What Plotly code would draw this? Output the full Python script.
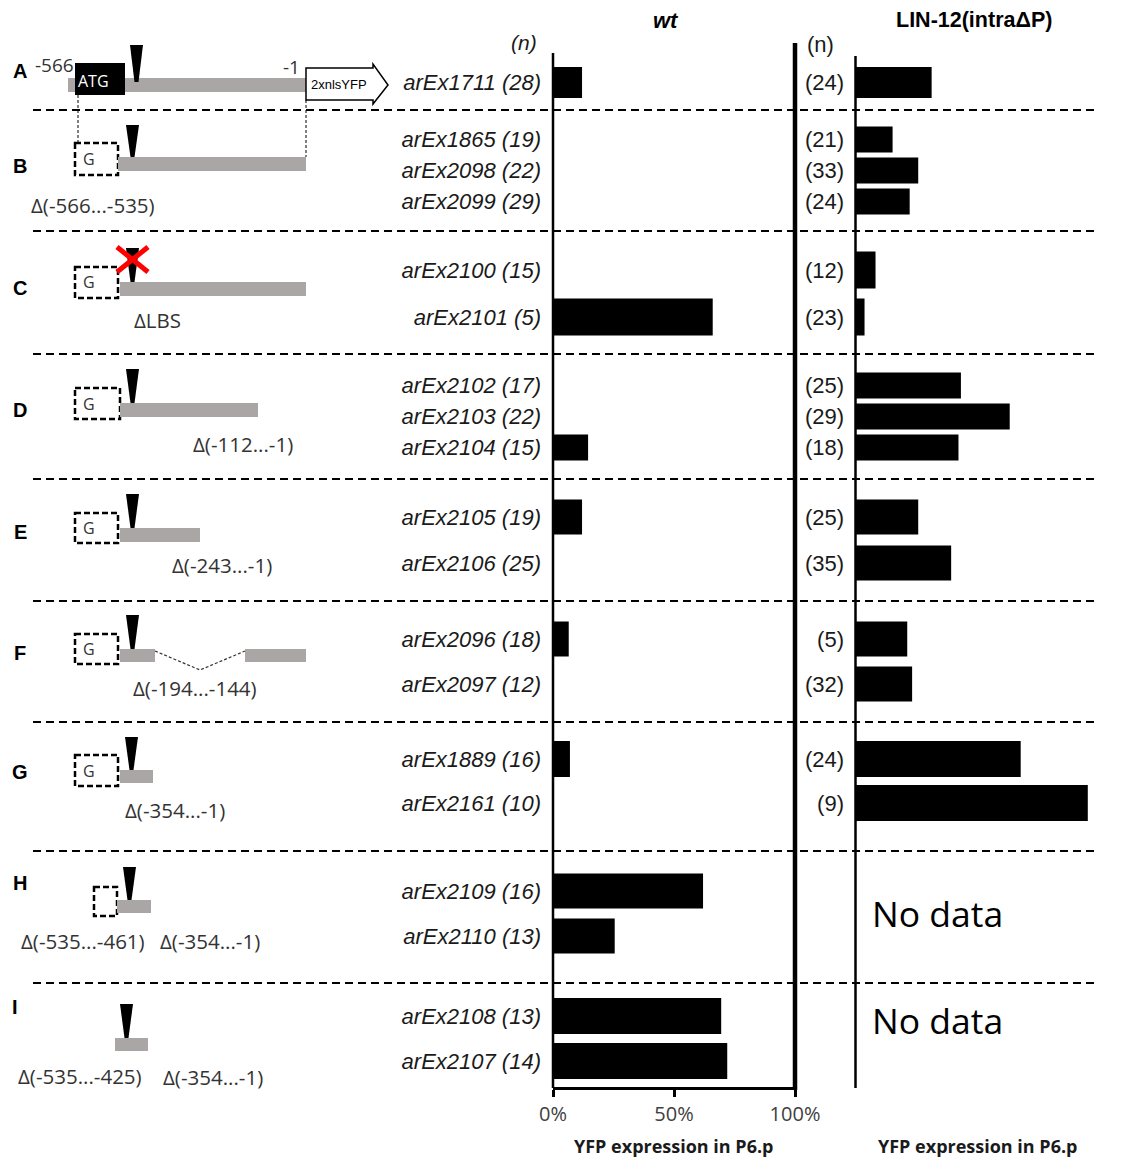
import plotly.graph_objects as go

# ---------------- data ----------------
constructs = ["arEx1711", "arEx1865", "arEx2098", "arEx2099", "arEx2100", "arEx2101",
              "arEx2102", "arEx2103", "arEx2104", "arEx2105", "arEx2106", "arEx2096",
              "arEx2097", "arEx1889", "arEx2161", "arEx2109", "arEx2110", "arEx2108",
              "arEx2107"]
groups = ["A", "B", "B", "B", "C", "C", "D", "D", "D", "E", "E", "F", "F", "G", "G",
          "H", "H", "I", "I"]
n_wt = [28, 19, 22, 29, 15, 5, 17, 22, 15, 19, 25, 18, 12, 16, 10, 16, 13, 13, 14]
n_lin = [24, 21, 33, 24, 12, 23, 25, 29, 18, 25, 35, 5, 32, 24, 9, None, None, None, None]
wt_pct = [12, 0, 0, 0, 0, 66, 0, 0, 14.5, 12, 0, 6.5, 0, 7, 0, 62, 25.5, 69.5, 72]
lin_pct = [31, 15, 25.5, 22, 8, 3.5, 43, 63, 42, 25.5, 39, 21, 23, 67.5, 95,
           None, None, None, None]
x_ticks = [0, 50, 100]
x_ticktext = ["0%", "50%", "100%"]
section_order = ["A", "B", "C", "D", "E", "F", "G", "H", "I"]

# ---------------- layout helpers ----------------
W, H = 1130, 1158
OFF = 8  # page body margin


def X(p):
    return (p - OFF) / W


def Y(p):
    return 1 - (p - OFF) / H


# section: (top px, bottom px, row spacing px, bar height px, centre offset px)
sec_layout = {
    "A": (55, 110, 40, 31, 0),
    "B": (110, 231, 31, 26, 0),
    "C": (231, 354, 47, 37, 1),
    "D": (354, 479, 31, 26, 0),
    "E": (479, 601, 46, 35, 0),
    "F": (601, 722, 45, 35, 0),
    "G": (722, 851, 44, 36, -5.5),
    "H": (851, 983, 45, 35, -3.5),
    "I": (983, 1087, 45, 36, 3.5),
}
col_domains = [[X(553), X(795)], [X(856), X(1100)]]

fig = go.Figure()
lay = {}
k = 0
for s in section_order:
    idx = [i for i, g in enumerate(groups) if g == s]
    top, bot, sp, bar, off = sec_layout[s]
    n = len(idx)
    c = (n - 1) / 2 - off / sp
    h = (bot - top) / 2 / sp
    yr = [c + h, c - h]
    dom = [Y(bot), Y(top)]
    cats = [constructs[i] for i in idx]
    for col in (0, 1):
        k += 1
        xa = "x" if k == 1 else f"x{k}"
        ya = "y" if k == 1 else f"y{k}"
        if col == 0:
            vals = [wt_pct[i] for i in idx]
            text = [f"{constructs[i]} ({n_wt[i]})" for i in idx]
            tfont = dict(family="Liberation Sans", size=22, color="#1a1a1a", style="italic")
        else:
            vals = [lin_pct[i] for i in idx]
            text = [f"({n_lin[i]})" if n_lin[i] is not None else "" for i in idx]
            tfont = dict(family="Liberation Sans", size=22, color="#1a1a1a")
        has = any(v is not None for v in vals)
        if has:
            fig.add_trace(go.Bar(y=cats, x=vals, orientation="h", xaxis=xa, yaxis=ya,
                                 marker=dict(color="black", line=dict(width=0)),
                                 width=bar / sp, showlegend=False, hoverinfo="x+y"))
        lay["yaxis" if k == 1 else f"yaxis{k}"] = dict(
            domain=dom, anchor=xa, type="category", categoryarray=cats,
            range=yr, tickmode="array", tickvals=cats, ticktext=text,
            showticklabels=has, tickfont=tfont, ticks="", ticklabelstandoff=11,
            showline=False, showgrid=False, zeroline=False, automargin=False)
        bottom = (s == section_order[-1])
        lay["xaxis" if k == 1 else f"xaxis{k}"] = dict(
            domain=col_domains[col], anchor=ya, range=[0, 100],
            showgrid=False, zeroline=False, automargin=False,
            showline=bottom, linecolor="black", linewidth=3,
            ticks="outside" if bottom else "", ticklen=7, tickwidth=3, tickcolor="black",
            tickmode="array", tickvals=x_ticks, ticktext=x_ticktext,
            showticklabels=bottom,
            tickfont=dict(family="Open Sans", size=20, color="#404040"))

shapes = []
ann = []


def line(x0, y0, x1, y1, width=2, color="black", dash=None):
    d = dict(type="line", xref="paper", yref="paper", x0=X(x0), y0=Y(y0), x1=X(x1), y1=Y(y1),
             line=dict(width=width, color=color))
    if dash:
        d["line"]["dash"] = dash
    shapes.append(d)


def rect(x0, y0, x1, y1, fill=None, lw=0, lc="black", dash=None):
    d = dict(type="rect", xref="paper", yref="paper", x0=X(x0), y0=Y(y0), x1=X(x1), y1=Y(y1),
             line=dict(width=lw, color=lc), fillcolor=fill if fill else "rgba(0,0,0,0)")
    if dash:
        d["line"]["dash"] = dash
    shapes.append(d)


def poly(pts, fill="black", lw=0, lc="black"):
    path = "M " + " L ".join(f"{X(a):.5f},{Y(b):.5f}" for a, b in pts) + " Z"
    shapes.append(dict(type="path", xref="paper", yref="paper", path=path,
                       fillcolor=fill, line=dict(width=lw, color=lc)))


def polyline(pts, width=1.2, dash="3px,2px"):
    path = "M " + " L ".join(f"{X(a):.5f},{Y(b):.5f}" for a, b in pts)
    shapes.append(dict(type="path", xref="paper", yref="paper", path=path,
                       line=dict(width=width, color="#333", dash=dash)))


def text(x, y, t, size=20, family="Open Sans", color="#333", bold=False, italic=False,
         xanchor="center"):
    f = dict(family=family, size=size, color=color)
    if bold:
        f["weight"] = "bold"
    if italic:
        f["style"] = "italic"
    ann.append(dict(x=X(x), y=Y(y), xref="paper", yref="paper", text=t, showarrow=False,
                    font=f, xanchor=xanchor, yanchor="middle"))


def wedge(cx, ytop, ybot, tw=13, bw=4):
    poly([(cx - tw / 2, ytop), (cx + tw / 2, ytop), (cx + bw / 2, ybot), (cx - bw / 2, ybot)])


GRAY = "#aba6a6"

# axis frame lines
line(553, 53, 553, 1088, width=2.5)
line(855.5, 56, 855.5, 1088, width=2.5)
line(795, 43, 795, 1090, width=4.5)

# dashed separators
for yy in [110, 231, 354, 479, 601, 722, 851, 983]:
    line(33, yy, 1095, yy, width=2, dash="8px,5px")

# ---- diagrams ----
# A
rect(68, 78, 306, 92, fill=GRAY)
rect(75, 63, 125, 95, fill="black")
wedge(136.5, 45, 82)
poly([(306, 68), (373, 68), (373, 64), (388, 85), (373, 104), (373, 100), (306, 100)],
     fill="white", lw=1.5)
line(78, 95, 78, 143, width=1, dash="3px,2px")
line(306, 100, 306, 157, width=1, dash="3px,2px")
text(93, 81, "ATG", size=16, color="white")
text(54, 65, "-566", size=19)
text(291, 67, "-1", size=19)
text(339, 84, "2xnlsYFP", size=13, family="Liberation Sans", color="black")


def gbox(x0, y0, x1, y1, label=True):
    rect(x0, y0, x1, y1, lw=2.5, dash="6px,3px")
    if label:
        text(89, (y0 + y1) / 2, "G", size=16)


# B
gbox(75, 143, 118, 175)
rect(118, 157, 306, 171, fill=GRAY)
wedge(132.5, 125, 157)
text(93, 205, "Δ(-566...-535)", size=20.5)
# C
gbox(75, 267, 118, 298)
rect(120, 282, 306, 296, fill=GRAY)
wedge(132.5, 248, 282)
line(117, 247, 148, 272, width=5, color="#ff0000")
line(117, 272, 148, 247, width=5, color="#ff0000")
text(157, 320, "ΔLBS", size=20.5)
# D
gbox(75, 388, 120, 419)
rect(120, 403, 258, 417, fill=GRAY)
wedge(132.5, 369, 403)
text(243, 444, "Δ(-112...-1)", size=20.5)
# E
gbox(75, 513, 118, 543)
rect(120, 528, 200, 542, fill=GRAY)
wedge(132.5, 494, 528)
text(222, 565, "Δ(-243...-1)", size=20.5)
# F
gbox(75, 634, 118, 664)
rect(120, 649, 155, 662, fill=GRAY)
rect(245, 649, 306, 662, fill=GRAY)
polyline([(155, 651), (200, 670), (245, 651)])
wedge(132.5, 615, 649)
text(195, 688, "Δ(-194...-144)", size=20.5)
# G
gbox(75, 755, 118, 786)
rect(120, 770, 153, 783, fill=GRAY)
wedge(131.5, 737, 770)
text(175, 810, "Δ(-354...-1)", size=20.5)
# H
gbox(94, 887, 117, 916, label=False)
rect(117, 900, 151, 913, fill=GRAY)
wedge(129.5, 867, 900)
text(83, 941, "Δ(-535...-461)", size=20.5)
text(210, 941, "Δ(-354...-1)", size=20.5)
# I
rect(115, 1038, 148, 1051, fill=GRAY)
wedge(126.5, 1004, 1038)
text(80, 1076, "Δ(-535...-425)", size=20.5)
text(213, 1077, "Δ(-354...-1)", size=20.5)

# section letters
for lt, yy, xx in [("A", 71, 20), ("B", 166, 20), ("C", 288, 20), ("D", 410, 20),
                   ("E", 532, 20), ("F", 653, 20), ("G", 772, 20), ("H", 883, 20),
                   ("I", 1007, 15)]:
    text(xx, yy, lt, size=20, family="Liberation Sans", color="black", bold=True)

# headers
text(666, 20, "wt", size=22, family="Liberation Sans", color="black", bold=True, italic=True)
text(974, 20, "LIN-12(intraΔP)", size=21.5, family="Liberation Sans", color="black", bold=True)
text(524, 42, "(n)", size=21, family="Liberation Sans", color="#1a1a1a", italic=True)
text(820, 44, "(n)", size=22, family="Liberation Sans", color="#1a1a1a")

# No data
text(938, 913, "No data", size=35.5, color="black")
text(938, 1020, "No data", size=35.5, color="black")

# axis titles
text(674, 1146, "YFP expression in P6.p", size=18, color="#1a1a1a", bold=True)
text(978, 1146, "YFP expression in P6.p", size=18, color="#1a1a1a", bold=True)

fig.update_layout(
    width=W, height=H, autosize=False,
    margin=dict(l=0, r=0, t=0, b=0),
    paper_bgcolor="white", plot_bgcolor="white",
    shapes=shapes, annotations=ann, showlegend=False,
    **lay)

fig.write_html("out.html")
